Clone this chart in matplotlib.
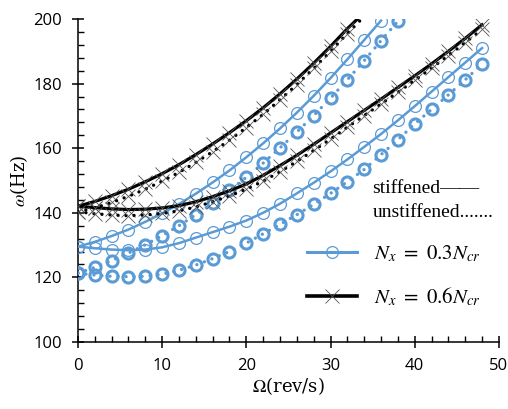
import matplotlib
matplotlib.use("Agg")
import matplotlib.pyplot as plt
from matplotlib.lines import Line2D
from matplotlib.ticker import MultipleLocator

BLUE = "#5b9bd5"
XGREY = "#555555"

# rotation speed (rev/s), markers every 2 rev/s
omega_full = [0, 2, 4, 6, 8, 10, 12, 14, 16, 18, 20, 22, 24,
              26, 28, 30, 32, 34, 36, 38, 40, 42, 44, 46, 48]

# Nx = 0.6 Ncr (black)
x_b6_up_s = [0, 2, 4, 6, 8, 10, 12, 14, 16, 18, 20, 22, 24, 26, 28, 30, 32, 33.2]
b6_up_s = [142.0, 143.5, 145.3, 147.3, 149.6, 152.1, 154.9, 158.0, 161.3,
           164.8, 168.5, 172.5, 176.8, 181.4, 186.3, 191.5, 197.0, 200.0]
x_b6_up_u = [0, 2, 4, 6, 8, 10, 12, 14, 16, 18, 20, 22, 24, 26, 28, 30, 32, 33.7]
b6_up_u = [140.3, 141.5, 143.2, 145.1, 147.3, 149.8, 152.5, 155.6, 158.9,
           162.5, 166.4, 170.5, 175.0, 179.7, 184.7, 190.0, 195.5, 200.0]
b6_lo_s = [142.0, 141.6, 141.2, 141.0, 141.1, 141.5, 142.2, 143.4, 145.0,
           146.8, 148.9, 151.6, 154.6, 157.8, 161.2, 164.7, 168.2, 171.7,
           175.2, 178.8, 182.4, 186.1, 190.0, 194.0, 198.2]
b6_lo_u = [140.3, 139.7, 139.3, 139.1, 139.3, 139.8, 140.6, 141.8, 143.4,
           145.2, 147.3, 149.8, 152.7, 155.9, 159.3, 162.8, 166.5, 170.1,
           173.7, 177.3, 181.0, 184.8, 188.7, 192.7, 196.8]

# Nx = 0.3 Ncr (blue)
x_b3_up_s = [0, 2, 4, 6, 8, 10, 12, 14, 16, 18, 20, 22, 24, 26, 28, 30, 32, 34, 36]
b3_up_s = [129.5, 131.0, 132.8, 134.8, 137.2, 139.8, 142.7, 145.9, 149.4,
           153.1, 157.2, 161.5, 166.1, 171.0, 176.2, 181.7, 187.5, 193.5, 199.5]
x_b3_up_u = [0, 2, 4, 6, 8, 10, 12, 14, 16, 18, 20, 22, 24, 26, 28, 30,
             32, 34, 36, 38]
b3_up_u = [121.3, 123.1, 125.2, 127.5, 130.1, 132.9, 136.0, 139.4, 143.0,
           146.9, 151.0, 155.4, 160.1, 165.0, 170.1, 175.5, 181.2, 187.1,
           193.3, 199.3]
b3_lo_s = [129.5, 129.0, 128.6, 128.4, 128.6, 129.3, 130.6, 132.3, 134.0,
           135.7, 137.6, 140.0, 142.8, 146.0, 149.3, 152.8, 156.5, 160.4,
           164.4, 168.6, 173.0, 177.5, 182.0, 186.5, 191.0]
b3_lo_u = [121.3, 120.7, 120.3, 120.2, 120.3, 121.0, 122.2, 123.8, 125.8,
           128.0, 130.6, 133.5, 136.4, 139.4, 142.6, 146.0, 149.6, 153.4,
           158.0, 162.6, 167.5, 172.0, 176.5, 181.2, 186.0]

x_ticks = [0, 10, 20, 30, 40, 50]
y_ticks = [100, 120, 140, 160, 180, 200]


def stiffened(ax, x, y, color, marker, ms, mew, mec, lw, every=None):
    ax.plot(x, y, color=color, lw=lw, marker=marker, ms=ms, mew=mew,
            mec=mec, mfc="none", markevery=every, zorder=3)


def unstiffened(ax, x, y, color, marker, ms, mew, mec, lw, every=None):
    ax.plot(x, y, color=color, lw=lw, ls=(0, (0.01, 2.4)),
            dash_capstyle="round", marker=marker, ms=ms, mew=mew,
            mec=mec, mfc="none", markevery=every, zorder=3)


def main():
    plt.rcParams["font.family"] = ["Open Sans", "DejaVu Sans"]
    plt.rcParams["mathtext.fontset"] = "stix"
    fig = plt.figure(figsize=(5.08, 4.09), dpi=100)
    ax = fig.add_axes([0.1535, 0.164, 0.8285, 0.7895])

    # blue, Nx = 0.3 Ncr
    stiffened(ax, x_b3_up_s, b3_up_s, BLUE, "o", 8.5, 0.9, BLUE, 1.8)
    unstiffened(ax, x_b3_up_u, b3_up_u, BLUE, "o", 8, 2.2, BLUE, 2.4)
    stiffened(ax, omega_full, b3_lo_s, BLUE, "o", 8.5, 0.9, BLUE, 1.8)
    unstiffened(ax, omega_full, b3_lo_u, BLUE, "o", 8, 2.2, BLUE, 2.4)

    # black, Nx = 0.6 Ncr
    stiffened(ax, x_b6_up_s, b6_up_s, "black", "x", 10, 0.6, XGREY, 2.3,
              every=slice(0, -1))
    unstiffened(ax, x_b6_up_u, b6_up_u, "black", "x", 10, 0.6, XGREY,
                2.4, every=slice(0, -1))
    stiffened(ax, omega_full, b6_lo_s, "black", "x", 10, 0.6, XGREY, 2.3)
    unstiffened(ax, omega_full, b6_lo_u, "black", "x", 10, 0.6, XGREY, 2.4)

    ax.set_xlim(0, 50)
    ax.set_ylim(100, 200)
    ax.set_xticks(x_ticks)
    ax.set_yticks(y_ticks)
    ax.xaxis.set_minor_locator(MultipleLocator(2))
    ax.yaxis.set_minor_locator(MultipleLocator(4))
    ax.tick_params(which="major", direction="inout", length=9, width=1.1,
                   labelsize=12, pad=7)
    ax.tick_params(which="minor", direction="in", length=4.5, width=1.0)
    for side in ["top", "right"]:
        ax.spines[side].set_visible(False)
    for side in ["left", "bottom"]:
        ax.spines[side].set_linewidth(1.1)

    ax.set_xlabel(r"$\mathit{\Omega}$(rev/s)", family="DejaVu Serif",
                  fontsize=13, labelpad=1)
    ax.set_ylabel(r"$\mathit{\omega}$(Hz)", family="DejaVu Serif",
                  fontsize=13, labelpad=2)

    ax.text(0.70, 0.475, "stiffened——", transform=ax.transAxes,
            family="Liberation Serif", fontsize=14, va="center")
    ax.text(0.70, 0.40, "unstiffened.......", transform=ax.transAxes,
            family="Liberation Serif", fontsize=14, va="center")

    handles = [
        Line2D([], [], color=BLUE, lw=2.2, marker="o", ms=8.5, mew=0.9,
               mfc="none", mec=BLUE),
        Line2D([], [], color="black", lw=2.6, marker="x", ms=10, mew=0.6,
               mec=XGREY),
    ]
    labels = [r"$N_x\ =\ 0.3N_{cr}$", r"$N_x\ =\ 0.6N_{cr}$"]
    ax.legend(handles, labels, loc="upper left", bbox_to_anchor=(0.525, 0.33),
              frameon=False, fontsize=15, handlelength=2.4, handletextpad=0.8,
              labelspacing=1.0, borderaxespad=0)

    fig.savefig("out.png", dpi=100)


if __name__ == "__main__":
    main()
